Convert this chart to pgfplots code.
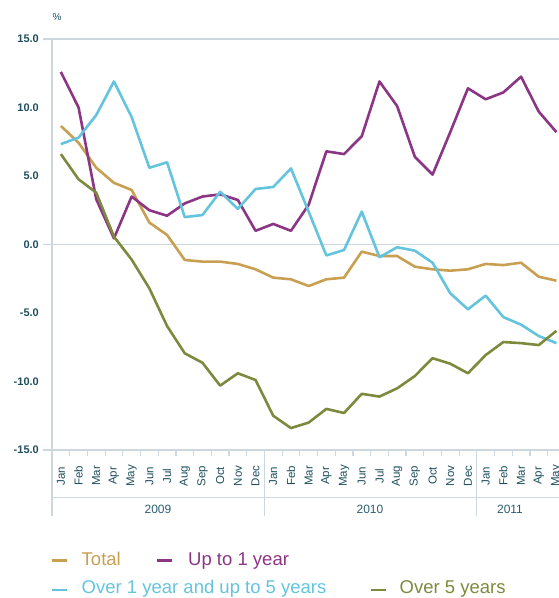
\documentclass[border=0pt]{standalone}
\usepackage{pgfplots}
\usepackage{pgfplotstable}
\pgfplotsset{compat=1.18}
\usepackage{fontspec}
\setmainfont{Liberation Sans}
\definecolor{ctotal}{HTML}{C9A052}
\definecolor{cup1}{HTML}{8C3585}
\definecolor{cmid}{HTML}{64C4DE}
\definecolor{cover5}{HTML}{7C8A3E}
\definecolor{ctick}{HTML}{1F4F5E}
\definecolor{cyear}{HTML}{2B5E6E}
\definecolor{cgrid}{HTML}{CCD8DD}

\pgfplotstableread{
x total up1 mid over5
0 8.65 12.6 7.33 6.6
1 7.43 10.0 7.8 4.76
2 5.6 3.3 9.45 3.78
3 4.5 0.45 11.9 0.57
4 3.98 3.5 9.3 -1.1
5 1.6 2.5 5.6 -3.2
6 0.7 2.1 6.0 -5.95
7 -1.13 3.0 2.0 -7.94
8 -1.25 3.5 2.15 -8.63
9 -1.25 3.66 3.85 -10.3
10 -1.42 3.25 2.6 -9.4
11 -1.81 1.0 4.05 -9.89
12 -2.42 1.5 4.2 -12.5
13 -2.54 1.0 5.55 -13.4
14 -3.03 2.9 2.4 -13.0
15 -2.54 6.8 -0.8 -12.0
16 -2.42 6.6 -0.4 -12.3
17 -0.52 7.9 2.4 -10.9
18 -0.84 11.9 -0.93 -11.1
19 -0.84 10.1 -0.2 -10.5
20 -1.62 6.4 -0.45 -9.6
21 -1.81 5.1 -1.33 -8.3
22 -1.91 8.2 -3.56 -8.7
23 -1.81 11.4 -4.73 -9.4
24 -1.42 10.6 -3.73 -8.07
25 -1.5 11.1 -5.3 -7.12
26 -1.33 12.25 -5.85 -7.2
27 -2.35 9.7 -6.68 -7.34
28 -2.64 8.2 -7.2 -6.3
}\datatable

\begin{document}
\begin{tikzpicture}[x=1pt,y=1pt]
\useasboundingbox (0,0) rectangle (558,598);
% frame lines
\draw[cgrid, line width=1.2pt] (43,559) -- (560,559);
\draw[cgrid, line width=1.2pt] (43,353.5) -- (560,353.5);
\draw[cgrid, line width=1.2pt] (43,148) -- (560,148);
\draw[cgrid, line width=1.2pt] (52,559) -- (52,82);
\draw[cgrid, line width=1.2pt] (52,100.5) -- (560,100.5);
\draw[cgrid, line width=1.2pt] (264.4,148) -- (264.4,82);
\draw[cgrid, line width=1.2pt] (476.8,148) -- (476.8,82);
\foreach \k in {1,...,29} {
  \draw[cgrid, line width=1.2pt] ({52+17.7*\k},148) -- ++(0,-6);
}
\node[text=ctick, font=\fontsize{10}{12}\selectfont] at (57,581) {\%};
\node[text=cyear, font=\fontsize{12}{14}\selectfont] at (158,89) {2009};
\node[text=cyear, font=\fontsize{12}{14}\selectfont] at (370,89) {2010};
\node[text=cyear, font=\fontsize{12}{14}\selectfont] at (510,89) {2011};

\begin{axis}[
  at={(52pt,148pt)}, anchor=south west,
  scale only axis, width=513.3pt, height=411pt,
  xmin=-0.5, xmax=28.5, ymin=-15, ymax=15,
  axis line style={draw=none},
  major tick length=0pt, minor tick length=0pt,
  xtick={0,...,28},
  xticklabels={Jan,Feb,Mar,Apr,May,Jun,Jul,Aug,Sep,Oct,Nov,Dec,Jan,Feb,Mar,Apr,May,Jun,Jul,Aug,Sep,Oct,Nov,Dec,Jan,Feb,Mar,Apr,May},
  xticklabel style={yshift=-26pt, rotate=90, anchor=center, inner sep=0pt, text=ctick, font=\fontsize{11.5}{13}\selectfont},
  ytick={-15,-10,-5,0,5,10,15},
  yticklabel style={anchor=east, inner sep=0pt, xshift=-13pt, text=ctick, font=\bfseries\fontsize{11}{13}\selectfont,
    /pgf/number format/fixed, /pgf/number format/fixed zerofill, /pgf/number format/precision=1,
    /pgf/number format/assume math mode=true},
  clip=false,
  every axis plot/.append style={line width=2.6pt, line join=round, mark=none},
]
\addplot[ctotal] table[x=x, y=total] {\datatable};
\addplot[cup1] table[x=x, y=up1] {\datatable};
\addplot[cmid] table[x=x, y=mid] {\datatable};
\addplot[cover5] table[x=x, y=over5] {\datatable};
\end{axis}

% legend
\def\lfont{\fontsize{18.5}{20}\selectfont}
\draw[ctotal, line width=2.6pt] (52,37.5) -- (67,37.5);
\node[anchor=base west, inner sep=0pt, text=ctotal, font=\lfont] at (81.5,32) {Total};
\draw[cup1, line width=2.6pt] (157,37.5) -- (172,37.5);
\node[anchor=base west, inner sep=0pt, text=cup1, font=\lfont] at (188,32) {Up to 1 year};
\draw[cmid, line width=2.6pt] (52,8) -- (67,8);
\node[anchor=base west, inner sep=0pt, text=cmid, font=\lfont] at (81.5,5) {Over 1 year and up to 5 years};
\draw[cover5, line width=2.6pt] (371,8) -- (386,8);
\node[anchor=base west, inner sep=0pt, text=cover5, font=\lfont] at (399.5,5) {Over 5 years};
\end{tikzpicture}
\end{document}
